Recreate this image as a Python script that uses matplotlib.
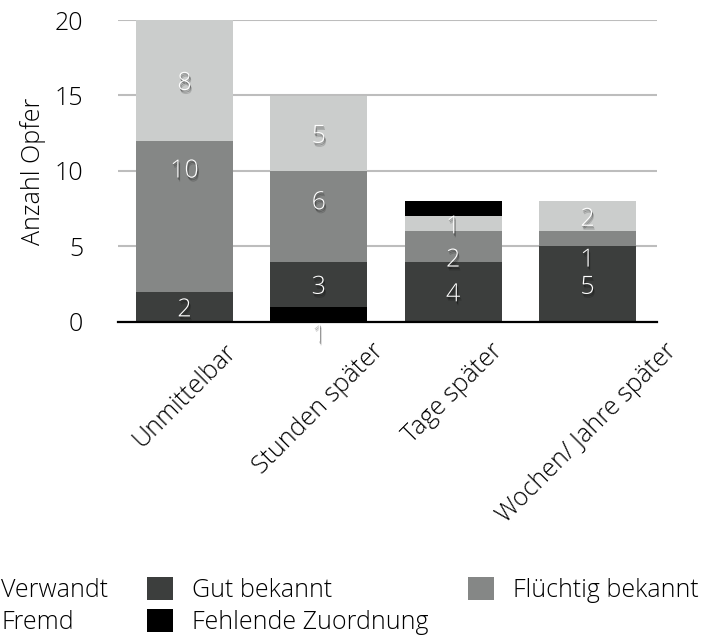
import matplotlib
matplotlib.use("Agg")
import matplotlib.pyplot as plt
import matplotlib.patheffects as pe
from matplotlib.patches import Patch
import numpy as np

plt.rcParams["font.family"] = ["Open Sans", "DejaVu Sans"]
plt.rcParams["font.weight"] = "light"
plt.rcParams["axes.labelweight"] = "light"

categories = ["Unmittelbar", "Stunden später", "Tage später", "Wochen/ Jahre später"]
series_names = ["Verwandt", "Gut bekannt", "Flüchtig bekannt", "Fremd", "Fehlende Zuordnung"]
verwandt = [0, 1, 0, 0]
gut_bekannt = [2, 3, 4, 5]
fluechtig_bekannt = [10, 6, 2, 1]
fremd = [8, 5, 1, 2]
fehlende_zuordnung = [0, 0, 1, 0]
y_ticks = [0, 5, 10, 15, 20]

series_values = [verwandt, gut_bekannt, fluechtig_bekannt, fremd, fehlende_zuordnung]
colors = {
    "Verwandt": "#000000",
    "Gut bekannt": "#3c3e3d",
    "Flüchtig bekannt": "#858786",
    "Fremd": "#cbcdcc",
    "Fehlende Zuordnung": "#000000",
}
# segments whose value is not printed
unlabeled = {"Fehlende Zuordnung"}
# vertical shift of individual value labels (data units)
label_shift = {
    (0, "Flüchtig bekannt"): 3.2,
    (1, "Verwandt"): -1.16,
    (1, "Flüchtig bekannt"): 1.1,
    (2, "Flüchtig bekannt"): -0.7,
    (3, "Flüchtig bekannt"): -1.2,
}

FS = 18
W, H = 710, 641
fig = plt.figure(figsize=(W / 100, H / 100), dpi=100)
ax = fig.add_axes([118 / W, 1 - 322 / H, (657 - 118) / W, (322 - 20) / H])

x = np.arange(len(categories))
bar_w = 0.72
bottom = np.zeros(len(categories))
# soft drop shadow under the white value labels
shadow = [
    pe.SimplePatchShadow(offset=(0.3, -0.8), shadow_rgbFace="black", alpha=0.22),
    pe.SimplePatchShadow(offset=(0.8, -1.8), shadow_rgbFace="black", alpha=0.28),
    pe.SimplePatchShadow(offset=(1.2, -2.8), shadow_rgbFace="black", alpha=0.16),
    pe.Normal(),
]
for name, vals in zip(series_names, series_values):
    vals = np.asarray(vals, dtype=float)
    ax.bar(x, vals, bar_w, bottom=bottom, color=colors[name], linewidth=0, zorder=3)
    if name not in unlabeled:
        for i, v in enumerate(vals):
            if v <= 0:
                continue
            y = bottom[i] + v / 2 - 0.2 + label_shift.get((i, name), 0)
            ax.text(x[i], y, f"{int(v)}", ha="center", va="center", color="white",
                    fontsize=FS, zorder=5, clip_on=False, path_effects=shadow)
    bottom += vals

ax.set_xlim(-0.495, 3.517)
ax.set_ylim(0, 20)
ax.set_yticks(y_ticks)
ax.set_yticklabels([str(t) for t in y_ticks], fontsize=FS)
ax.set_xticks(x)
ax.set_xticklabels(categories, rotation=45, ha="center", fontsize=FS)
ax.tick_params(axis="both", length=0, labelcolor="black")
ax.tick_params(axis="y", pad=25)
ax.tick_params(axis="x", pad=12)
ax.set_ylabel("Anzahl Opfer", fontsize=FS, labelpad=6)

for s in ["top", "right", "left"]:
    ax.spines[s].set_visible(False)
ax.spines["bottom"].set_color("black")
ax.spines["bottom"].set_linewidth(1.6)
ax.spines["bottom"].set_zorder(4)
ax.yaxis.grid(True, color="#bdbdbd", linewidth=1.5)
ax.set_axisbelow(True)

# legend entries arranged row-wise over three columns
order = ["Verwandt", "Fremd", "Gut bekannt", "Fehlende Zuordnung", "Flüchtig bekannt"]
handles = [Patch(facecolor=colors[n], edgecolor="none", label=n) for n in order]
fig.legend(handles=handles, ncol=3, loc="upper left",
           bbox_to_anchor=(-44 / W, 1 - 577 / H), frameon=False, fontsize=FS,
           borderpad=0, borderaxespad=0, handlelength=1.04, handleheight=1.04,
           handletextpad=0.76, columnspacing=1.56, labelspacing=0.22)

fig.savefig("out.png", dpi=100)
